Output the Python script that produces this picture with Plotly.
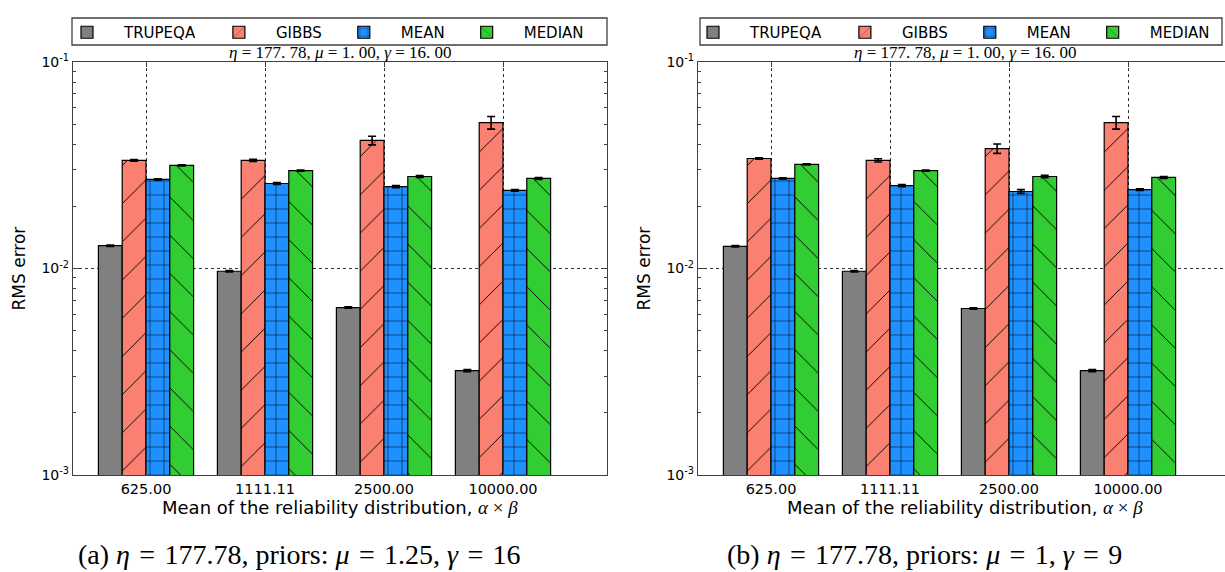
import plotly.graph_objects as go

categories = ["625.00", "1111.11", "2500.00", "10000.00"]
methods = ["TRUPEQA", "GIBBS", "MEAN", "MEDIAN"]
colors = ["#808080", "#FA8072", "#1E90FF", "#32CD32"]
hatches = ["", "/", "+", "\\"]

# Panel (a)
a_trupeqa = [0.0129, 0.0097, 0.00647, 0.0032]
a_gibbs = [0.0334, 0.0334, 0.0417, 0.0509]
a_mean = [0.0270, 0.0258, 0.0249, 0.0239]
a_median = [0.0316, 0.0298, 0.0279, 0.0273]
a_trupeqa_err = [0.0001, 0.00008, 0.00005, 0.00004]
a_gibbs_err = [0.0003, 0.0004, 0.0020, 0.0036]
a_mean_err = [0.0002, 0.0003, 0.0003, 0.0002]
a_median_err = [0.0002, 0.0002, 0.0003, 0.0003]

# Panel (b)
b_trupeqa = [0.0128, 0.0097, 0.0064, 0.0032]
b_gibbs = [0.0341, 0.0334, 0.0381, 0.0509]
b_mean = [0.0273, 0.0252, 0.0236, 0.0241]
b_median = [0.0319, 0.0298, 0.0279, 0.0276]
b_trupeqa_err = [0.0001, 0.00008, 0.00005, 0.00004]
b_gibbs_err = [0.0003, 0.0006, 0.0020, 0.0036]
b_mean_err = [0.0002, 0.0003, 0.0005, 0.0002]
b_median_err = [0.0002, 0.0002, 0.0004, 0.0003]

y_tickvals = [1e-3, 1e-2, 1e-1]
y_ticktext = ["10<sup>-3</sup>", "10<sup>-2</sup>", "10<sup>-1</sup>"]

panel_title = "<i>η</i> = 177. 78, <i>μ</i> = 1. 00, <i>γ</i> = 16. 00"
SP = "\u2004"
captions = [f"(a) <i>η</i>{SP}={SP}177.78, priors: <i>μ</i>{SP}={SP}1.25, <i>γ</i>{SP}={SP}16",
            f"(b) <i>η</i>{SP}={SP}177.78, priors: <i>μ</i>{SP}={SP}1, <i>γ</i>{SP}={SP}9"]

W, H = 1225, 572
SANS = "DejaVu Sans"
SERIF = "Liberation Serif"
FRAME = "#404040"

panels = [
    dict(vals=[a_trupeqa, a_gibbs, a_mean, a_median],
         errs=[a_trupeqa_err, a_gibbs_err, a_mean_err, a_median_err],
         xa="x", ya="y", legend="legend", px=(73, 607), lg=(72, 607), lgx=50,
         cap=299),
    dict(vals=[b_trupeqa, b_gibbs, b_mean, b_median],
         errs=[b_trupeqa_err, b_gibbs_err, b_mean_err, b_median_err],
         xa="x2", ya="y2", legend="legend2", px=(698, 1225), lg=(700, 1222), lgx=676,
         cap=925),
]
top_px, bot_px = 62, 475
unit_px = 119.0
first_tick_px = 73.0

fig = go.Figure()
for p_i, p in enumerate(panels):
    for m_i, m in enumerate(methods):
        pat = dict(shape=hatches[m_i], fgcolor="black", bgcolor=colors[m_i],
                   fillmode="replace", size=14 if hatches[m_i] == "+" else 27,
                   solidity=0.07 if hatches[m_i] == "+" else 0.035)
        fig.add_trace(go.Bar(
            x=categories, y=p["vals"][m_i], name=m,
            xaxis=p["xa"], yaxis=p["ya"], legend=p["legend"],
            marker=dict(color=colors[m_i], line=dict(color="black", width=1.2),
                        pattern=pat),
            error_y=dict(type="data", array=p["errs"][m_i], color="black",
                         thickness=1.6, width=4),
            offsetgroup=str(m_i),
        ))

minor_vals = [k * 10 ** e for e in (-3, -2) for k in range(2, 10)]

layout = dict(
    width=W, height=H, margin=dict(l=0, r=0, t=0, b=0, autoexpand=False),
    paper_bgcolor="white", plot_bgcolor="white",
    barmode="group", bargap=0.2, bargroupgap=0.0,
    font=dict(family=SANS, size=14, color="black"),
    showlegend=True,
)

ydom = [1 - bot_px / H, 1 - top_px / H]
annotations = []
shapes = []
for p_i, p in enumerate(panels):
    sfx = "" if p_i == 0 else "2"
    x0, x1 = p["px"]
    r0 = -first_tick_px / unit_px
    r1 = r0 + (x1 - x0) / unit_px
    layout["xaxis" + sfx] = dict(
        domain=[x0 / W, x1 / W], anchor="y" + sfx, type="category",
        range=[r0, r1], ticks="inside", ticklen=5, tickcolor=FRAME,
        showline=True, linecolor=FRAME, linewidth=1.3, mirror="allticks",
        showgrid=True, gridcolor="#333333", griddash="dot", gridwidth=0.8,
        tickfont=dict(size=14.5, family=SANS), automargin=False,
    )
    layout["yaxis" + sfx] = dict(
        domain=ydom, anchor="x" + sfx, type="log", range=[-3, -1],
        tickmode="array", tickvals=y_tickvals, ticktext=y_ticktext,
        ticks="inside", ticklen=6, tickcolor=FRAME,
        showline=True, linecolor=FRAME, linewidth=1.3,
        mirror="allticks" if p_i == 0 else False,
        showgrid=True, gridcolor="#333333", griddash="dot", gridwidth=0.8,
        zeroline=False,
        minor=dict(tickmode="array", tickvals=minor_vals, ticks="inside",
                   ticklen=3, tickcolor=FRAME, showgrid=False),
        tickfont=dict(size=14, family=SANS), automargin=False,
    )
    legend_cfg = dict(
        orientation="h", x=p["lgx"] / W, y=1 - 16 / H,
        xanchor="left", yanchor="top",
        borderwidth=0, bgcolor="rgba(0,0,0,0)",
        font=dict(size=15, family=SANS), itemwidth=64, tracegroupgap=0,
    )
    layout["legend" if p_i == 0 else "legend2"] = legend_cfg
    lx0, lx1 = p["lg"]
    shapes.append(dict(type="rect", xref="paper", yref="paper",
                       x0=lx0 / W, x1=lx1 / W, y0=1 - 45 / H, y1=1 - 18 / H,
                       line=dict(color=FRAME, width=1.3), layer="below"))
    cx = (x0 + 267) / W
    annotations.append(dict(text=panel_title, x=cx, y=1 - 52 / H, xref="paper", yref="paper",
                            showarrow=False, font=dict(family=SERIF, size=17),
                            xanchor="center", yanchor="middle"))
    annotations.append(dict(text="Mean of the reliability distribution, "
                                 "<span style='font-family:Liberation Serif;font-size:19px'><i>α</i> × <i>β</i></span>",
                            x=cx, y=1 - 507 / H, xref="paper", yref="paper",
                            showarrow=False, font=dict(family=SANS, size=18),
                            xanchor="center", yanchor="middle"))
    annotations.append(dict(text="RMS error", x=(x0 - 55) / W, y=(ydom[0] + ydom[1]) / 2,
                            xref="paper", yref="paper", textangle=-90, showarrow=False,
                            font=dict(family=SANS, size=17), xanchor="center", yanchor="middle"))
    annotations.append(dict(text=captions[p_i], x=p["cap"] / W, y=1 - 554 / H,
                            xref="paper", yref="paper", showarrow=False,
                            font=dict(family=SERIF, size=28), xanchor="center", yanchor="middle"))

layout["annotations"] = annotations
layout["shapes"] = shapes
fig.update_layout(**layout)
fig.write_html("out.html", config={"displayModeBar": False},
               post_script="document.body.style.margin='0';document.body.style.overflow='hidden';")
